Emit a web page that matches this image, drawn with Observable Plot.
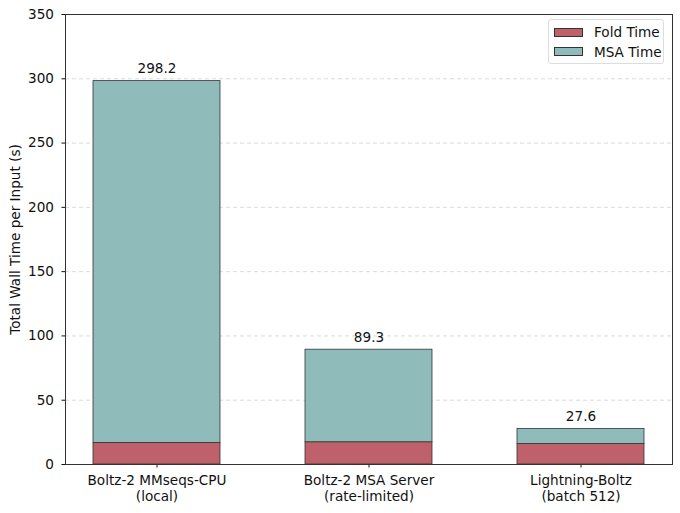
<!DOCTYPE html>
<html>
<head>
<meta charset="utf-8">
<script src="https://cdn.jsdelivr.net/npm/d3@7"></script>
<script src="https://cdn.jsdelivr.net/npm/@observablehq/plot@0.6"></script>
<style>
  html, body { margin: 0; padding: 0; background: #fff; }
  #wrap { position: relative; width: 680px; height: 513px; font-family: "DejaVu Sans", sans-serif; }
  #legend { position: absolute; left: 548px; top: 19px; width: 116px; height: 45px; box-sizing: border-box;
    border: 1px solid #ddd; border-radius: 3px; background: rgba(255,255,255,0.85); font-size: 13.6px; color: #111; }
  .item { position: absolute; left: 5px; height: 16px; display: flex; align-items: center; }
  .sw { width: 27px; height: 7px; border: 0.8px solid #333; margin-right: 11px; }
</style>
</head>
<body>
<div id="wrap">
  <div id="chart"></div>
  <div id="legend"></div>
</div>
<script>
const categories = ["Boltz-2 MMseqs-CPU\n(local)", "Boltz-2 MSA Server\n(rate-limited)", "Lightning-Boltz\n(batch 512)"];
const foldTime = [16.8, 17.3, 16.0];
const msaTime = [281.4, 72.0, 11.6];
const totals = [298.2, 89.3, 27.6];
const seriesNames = ["Fold Time", "MSA Time"];
const seriesColors = ["#bf616a", "#8fbcbb"];
const yTicks = [0, 50, 100, 150, 200, 250, 300, 350];

const rows = [];
categories.forEach((c, i) => rows.push({cat: c, series: seriesNames[0], value: foldTime[i]}));
categories.forEach((c, i) => rows.push({cat: c, series: seriesNames[1], value: msaTime[i]}));
const labels = categories.map((c, i) => ({cat: c, total: totals[i]}));

const FS = 13.6;
const plot = Plot.plot({
  width: 680,
  height: 513,
  marginLeft: 65,
  marginRight: 8,
  marginTop: 14,
  marginBottom: 49,
  style: {fontFamily: "DejaVu Sans, sans-serif", fontSize: FS + "px", color: "#111", background: "#fff"},
  x: {type: "band", domain: categories, paddingInner: 0.4, paddingOuter: 0.13, align: 0.5},
  y: {domain: [0, 350]},
  color: {domain: seriesNames, range: seriesColors},
  marks: [
    Plot.gridY(yTicks, {stroke: "#b0b0b0", strokeOpacity: 0.6, strokeDasharray: "4,3", strokeWidth: 0.8}),
    Plot.barY(rows, {x: "cat", y: "value", fill: "series", stroke: "#333", strokeWidth: 0.8, order: seriesNames}),
    Plot.text(labels, {x: "cat", y: "total", text: d => d.total.toFixed(1), lineAnchor: "bottom", dy: -8, fontSize: FS, fill: "#111"}),
    Plot.axisY({ticks: yTicks, tickSize: 3.5, tickPadding: 8, fontSize: FS, label: "Total Wall Time per Input (s)", labelAnchor: "center", labelArrow: "none", labelOffset: 55}),
    Plot.axisX({tickSize: 3.5, tickPadding: 6, fontSize: FS, lineHeight: 1.15, label: null}),
    Plot.frame({stroke: "#333", strokeWidth: 1})
  ]
});
document.getElementById("chart").appendChild(plot);

const legend = document.getElementById("legend");
seriesNames.forEach((s, i) => {
  const it = document.createElement("div");
  it.className = "item";
  it.style.top = (4 + i * 19.5) + "px";
  const sw = document.createElement("span");
  sw.className = "sw";
  sw.style.background = seriesColors[i];
  const t = document.createElement("span");
  t.textContent = s;
  it.appendChild(sw); it.appendChild(t);
  legend.appendChild(it);
});
</script>
</body>
</html>
